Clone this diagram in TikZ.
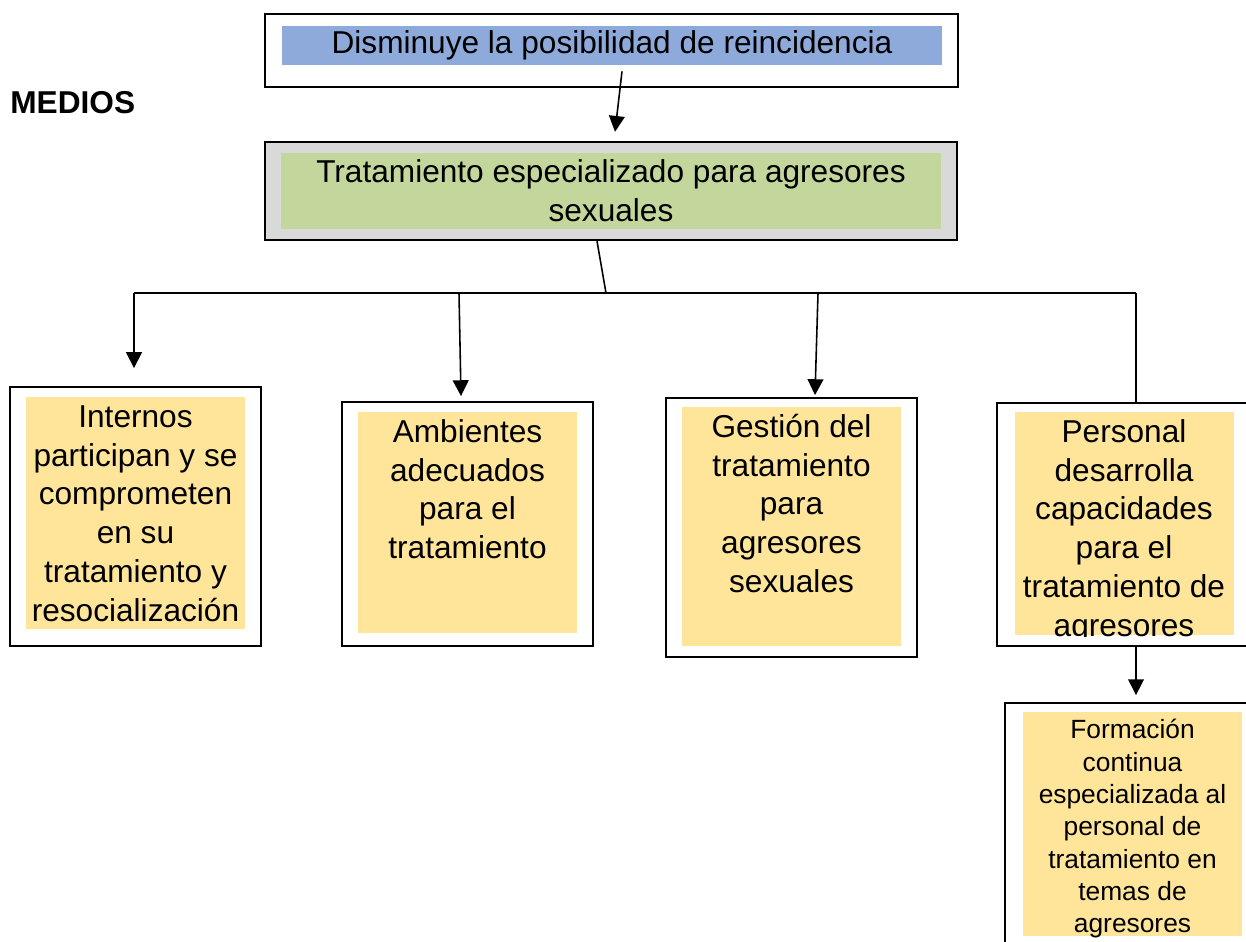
\documentclass[tikz,border=0pt]{standalone}
\usepackage{fontspec}
\setmainfont{Liberation Sans}
\usetikzlibrary{arrows.meta,calc}

\definecolor{aimblue}{HTML}{8EAADB}
\definecolor{meangreen}{HTML}{C3D69B}
\definecolor{meangray}{HTML}{D9D9D9}
\definecolor{padyellow}{HTML}{FFE599}

\tikzset{
  frame/.style={draw, line width=1.1pt, fill=white, inner sep=0pt},
  pad/.style={fill=padyellow, inner sep=0pt, anchor=north},
  big/.style={font=\fontsize{18}{22.1}\selectfont},
  small/.style={font=\fontsize{15}{18.4}\selectfont},
  conn/.style={line width=0.9pt},
  arr/.style={conn, -{Triangle[length=9pt,width=9pt]}},
}
\newcommand{\padtext}[2]{\parbox[c][#1][t]{4.38cm}{\centering\rule{0pt}{17pt}#2}}
\newcommand{\smallpadtext}[2]{\parbox[c][#1][t]{4.38cm}{\centering\rule{0pt}{15pt}#2}}

\begin{document}
\begin{tikzpicture}[x=0.02cm,y=-0.02cm]
	\clip (0,0) rectangle (1246,942);

	% The aim and the main means
	\node[frame, minimum width=13.86cm, minimum height=1.46cm] (aim) at (611.5,50.5) {};
	\node[fill=aimblue, minimum width=13.2cm, minimum height=0.78cm, inner sep=0pt, big] (aimfill) at (612,45.5) {Disminuye la posibilidad de reincidencia};
	\node[frame, fill=meangray, line width=1.4pt, minimum width=13.84cm, minimum height=1.96cm] (mean) at (611,191) {};
	\node[fill=meangreen, minimum width=13.2cm, minimum height=1.52cm, inner sep=0pt, align=center, big] (meanfill) at (611,191) {Tratamiento especializado para agresores\\sexuales};
	\node[anchor=west, inner sep=0pt, font=\bfseries\fontsize{18}{22}\selectfont] (medios) at (10,103) {MEDIOS};

	% Then the four means below
	\node[frame, minimum width=5.02cm, minimum height=5.18cm] (m1) at (135.5,516.5) {};
	\node[frame, minimum width=5.02cm, minimum height=4.88cm] (m2) at (467.5,524) {};
	\node[frame, minimum width=5.02cm, minimum height=5.18cm] (m3) at (791.5,527.5) {};
	\node[frame, minimum width=5.08cm, minimum height=4.86cm] (m4) at (1124,524.5) {};
	\node[frame, minimum width=5.1cm, minimum height=5.24cm] (m5) at (1132.5,834) {};

	\node[pad, big] (p1) at ($(m1.north)+(0,11)$) {\padtext{4.64cm}{Internos\\participan y se\\comprometen\\en su\\tratamiento y\\resocialización}};
	\node[pad, big] (p2) at ($(m2.north)+(0,11)$) {\padtext{4.42cm}{Ambientes\\adecuados\\para el\\tratamiento}};
	\node[pad, big] (p3) at ($(m3.north)+(0,10)$) {\padtext{4.78cm}{Gestión del\\tratamiento\\para\\agresores\\sexuales}};
	\begin{scope}
		\clip ($(m4.north)+(-110,10)$) rectangle ($(m4.north)+(110,234)$);
		\node[pad, big] (p4) at ($(m4.north)+(0,10)$) {\padtext{4.46cm}{Personal\\desarrolla\\capacidades\\para el\\tratamiento de\\agresores}};
	\end{scope}
	\node[pad, small] (p5) at ($(m5.north)+(0,10)$) {\smallpadtext{4.48cm}{Formación\\continua\\especializada al\\personal de\\tratamiento en\\temas de\\agresores}};

	% Now the connectors
	\coordinate (barl) at (134,293);
	\coordinate (barr) at (1136,293);
	\coordinate (join) at (606,293);
	\coordinate (drop2) at (459,293);
	\coordinate (drop3) at (818,293);
	\draw[arr] ($(aimfill.south)+(10,6)$) -- ($(mean.north)+(4,-9)$);
	\draw[conn] ($(mean.south)+(-14,0)$) -- (join);
	\draw[conn] (barl) -- (barr);
	\draw[arr] (barl) -- ($(m1.north)+(-1.5,-18)$);
	\draw[arr] (drop2) -- ($(m2.north)+(-6.5,-5)$);
	\draw[arr] (drop3) -- ($(m3.north)+(23.5,-2)$);
	\draw[conn] (barr) -- (barr |- m4.north);
	\draw[arr] (barr |- m4.south) -- ($(barr |- m5.north)+(0,-7)$);
\end{tikzpicture}
\end{document}
